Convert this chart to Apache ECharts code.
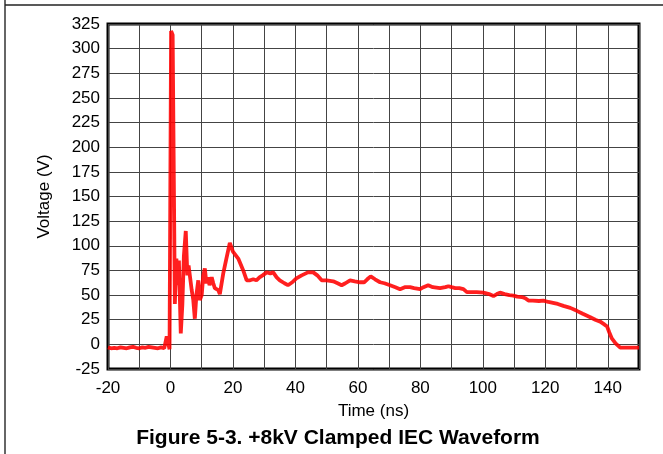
<!DOCTYPE html>
<html>
<head>
<meta charset="utf-8">
<script src="https://cdn.jsdelivr.net/npm/echarts@6/dist/echarts.min.js"></script>
<style>html,body{margin:0;padding:0;background:#fff;}#c{width:663px;height:454px;}</style>
</head>
<body>
<div id="c"></div>
<script>
var timeNs = [-20,-19,-18,-17,-16,-15,-14,-13,-12,-11,-10,-9,-8,-7,-6,-5,-4,-3,-2,-1.5,-1.2,-0.6,-0.3,
  0.2,0.7,1.4,1.9,2.3,2.7,3.3,3.8,4.3,4.9,5.4,5.8,6.3,6.8,7.3,7.8,8.3,8.9,9.4,10,10.5,11,11.5,12,12.5,13.2,13.7,14.2,14.8,15.3,15.8,16.9,17.9,19,19.3,20,20.6,21.7,23.3,24.4,25.5,26.5,27.5,28.5,29.5,30.8,32,32.9,34,35,36.5,37.6,39,40.3,42,44,45.7,47,48.4,50,52.1,53.5,54.8,56,57.5,59,60.7,62,63,64.1,65.5,67.1,68.5,70.3,72,73.5,75,76.7,78,79.9,81,82.5,84,86.3,88,89,90,91.2,92.5,93.8,94.9,96,98,100.2,102,103.4,104.5,105.5,107,108.5,109.8,111,112.5,113.6,114.6,116,118,119.4,121,122.1,124,125.8,128,130.1,132,134.4,136,137.6,139,139.8,140.5,141.3,142.5,144,146,148,150];
var voltageV = [-3,-4,-3.5,-4,-3,-3.5,-4,-3,-2.5,-3.5,-4,-3,-3.5,-2.5,-3,-3.5,-4,-3,-4,-4,8,8,-5,
  318,314,41,87,60,85,11,40,90,115,70,80,78,55,45,26,50,65,45,50,70,77,62,68,60,68,62,57,56,55,51,72,87,103,104,94,93,87,75,65,65,66,65,68,70,73,72,73,68,65,62,60,63,67,70,73,73,70,65,65,64,62,60,62,65,64,63,63,66,69,66,63,62,60,58,56,58,58,57,56,58,60,58,57,58,59,58,57,57,56,53,53,53,52.5,51,49,51,52.5,51,50,49.5,48.5,48,46.8,44.4,44.4,44,44.4,43,42.4,41,39,37,34,31,27.5,25,23,20,18,12,6,1,-3.3,-3.3,-3.3,-3.3];
var yTicks = [-25,0,25,50,75,100,125,150,175,200,225,250,275,300,325];
var xTickLabels = [-20,0,20,40,60,80,100,120,140];

var pts = timeNs.map(function(t,i){return [t, voltageV[i]];});
var chart = echarts.init(document.getElementById('c'));
var font = 'Liberation Sans, Arial, sans-serif';
chart.setOption({
  animation:false,
  grid:{left:108,top:24,right:24,bottom:85,show:true,borderColor:'#000',borderWidth:3,backgroundColor:'transparent'},
  xAxis:{type:'value',min:-20,max:150,interval:10,
    axisLine:{show:false},axisTick:{show:false},
    splitLine:{show:true,lineStyle:{color:'#444',width:1}},
    axisLabel:{margin:11,color:'#000',fontSize:17,fontFamily:font,
      formatter:function(v){return xTickLabels.indexOf(v)>=0?String(v):'';}},
    name:'Time (ns)',nameLocation:'middle',nameGap:34,
    nameTextStyle:{color:'#000',fontSize:17,fontFamily:font}},
  yAxis:{type:'value',min:-25,max:325,interval:25,
    axisLine:{show:false},axisTick:{show:false},
    splitLine:{show:true,lineStyle:{color:'#444',width:1}},
    axisLabel:{margin:8,color:'#000',fontSize:17,fontFamily:font,
      formatter:function(v){return yTicks.indexOf(v)>=0?String(v):'';}},
    name:'Voltage (V)',nameLocation:'middle',nameGap:55,
    nameTextStyle:{color:'#000',fontSize:17,fontFamily:font}},
  series:[{type:'line',data:pts,showSymbol:false,
    lineStyle:{color:'#ff0000',width:3.8,opacity:0.88}}],
  graphic:[
    {type:'line',shape:{x1:5,y1:0,x2:5,y2:454},style:{stroke:'#666',lineWidth:2}},
    {type:'line',shape:{x1:5,y1:5,x2:663,y2:5},style:{stroke:'#222',lineWidth:1.5}},
    {type:'text',x:338,y:438,style:{text:'Figure 5-3. +8kV Clamped IEC Waveform',
      font:'bold 21px Liberation Sans, Arial, sans-serif',fill:'#000',textAlign:'center',textVerticalAlign:'middle'}}
  ]
});
</script>
</body>
</html>
